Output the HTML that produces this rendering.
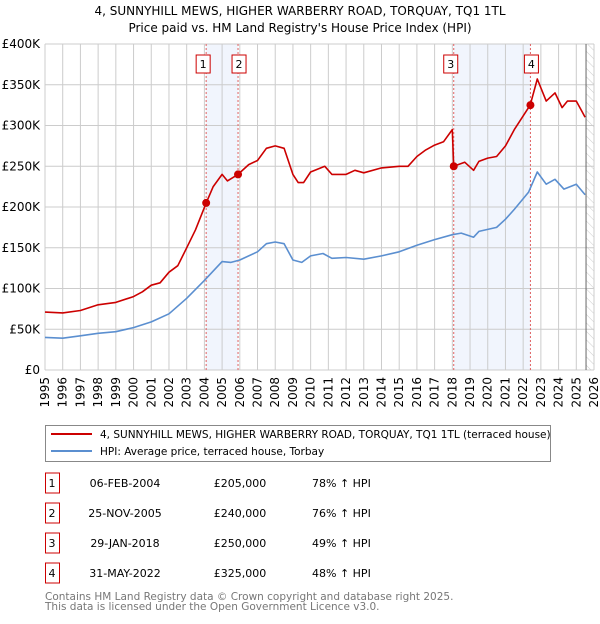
<!DOCTYPE html>
<html><head><meta charset="utf-8"><style>
body{margin:0;background:#fff;font-family:"DejaVu Sans","Liberation Sans",sans-serif;}
svg text{font-family:"DejaVu Sans","Liberation Sans",sans-serif;}
</style></head><body>
<svg id="c" width="600" height="620" xmlns="http://www.w3.org/2000/svg">
<text x="300" y="15" text-anchor="middle" font-size="12" fill="#000">4, SUNNYHILL MEWS, HIGHER WARBERRY ROAD, TORQUAY, TQ1 1TL</text>
<text x="300" y="32" text-anchor="middle" font-size="12" fill="#000">Price paid vs. HM Land Registry's House Price Index (HPI)</text>
<g id="plot"></g>
<g>
<rect x="45.5" y="425.5" width="505" height="36" fill="#fff" stroke="#888"/>
<line x1="51" y1="434" x2="92" y2="434" stroke="#cc0000" stroke-width="2"/>
<text x="100" y="438" font-size="10.5">4, SUNNYHILL MEWS, HIGHER WARBERRY ROAD, TORQUAY, TQ1 1TL (terraced house)</text>
<line x1="51" y1="451" x2="92" y2="451" stroke="#5b8fd0" stroke-width="2"/>
<text x="100" y="455" font-size="10.5">HPI: Average price, terraced house, Torbay</text>
</g>
<g id="table"></g>
<text x="45" y="600" font-size="10.5" fill="#777">Contains HM Land Registry data © Crown copyright and database right 2025.</text>
<text x="45" y="610" font-size="10.5" fill="#777">This data is licensed under the Open Government Licence v3.0.</text>
</svg>
<script>
const redYears=[1995,1996,1997,1998,1999,2000,2000.5,2001,2001.5,2002,2002.5,2003,2003.5,2004.1,2004.5,2005,2005.3,2005.9,2006.5,2007,2007.5,2008,2008.5,2009,2009.3,2009.6,2010,2010.8,2011.2,2012,2012.5,2013,2014,2015,2015.5,2016,2016.5,2017,2017.5,2018.0,2018.08,2018.7,2019.2,2019.5,2020,2020.5,2021,2021.5,2022.4,2022.8,2023.3,2023.8,2024.2,2024.5,2025,2025.3,2025.5];
const redValues=[71,70,73,80,83,90,96,104,107,120,128,150,172,205,225,240,232,240,252,257,272,275,272,240,230,230,243,250,240,240,245,242,248,250,250,262,270,276,280,295,250,255,245,256,260,262,275,295,325,357,330,340,322,330,330,318,310];
const hpiYears=[1995,1996,1997,1998,1999,2000,2001,2002,2003,2004,2005,2005.5,2006,2007,2007.5,2008,2008.5,2009,2009.5,2010,2010.7,2011.2,2012,2013,2014,2015,2016,2017,2018,2018.5,2019.2,2019.5,2020.5,2021,2021.5,2022.3,2022.8,2023.3,2023.8,2024.3,2025,2025.5];
const hpiValues=[40,39,42,45,47,52,59,69,88,110,133,132,135,145,155,157,155,135,132,140,143,137,138,136,140,145,153,160,166,168,163,170,175,185,197,218,243,228,234,222,228,215];
const saleYears=[2004.1,2005.9,2018.08,2022.41];
const saleValues=[205,240,250,325];
const saleLabels=["1","2","3","4"];
const saleDates=["06-FEB-2004","25-NOV-2005","29-JAN-2018","31-MAY-2022"];
const salePrices=["£205,000","£240,000","£250,000","£325,000"];
const saleHpi=["78% ↑ HPI","76% ↑ HPI","49% ↑ HPI","48% ↑ HPI"];
const yTicks=[0,50,100,150,200,250,300,350,400];
const yTickLabels=["£0","£50K","£100K","£150K","£200K","£250K","£300K","£350K","£400K"];
const xTicks=[1995,1996,1997,1998,1999,2000,2001,2002,2003,2004,2005,2006,2007,2008,2009,2010,2011,2012,2013,2014,2015,2016,2017,2018,2019,2020,2021,2022,2023,2024,2025,2026];

const NS="http://www.w3.org/2000/svg";
const L=45,R=594,T=44,B=370;
const xs=y=>L+(y-1995)*(R-L)/31;
const ys=v=>B-v*(B-T)/400;
const plot=document.getElementById('plot');
function mk(tag,attrs,parent){const e=document.createElementNS(NS,tag);for(const k in attrs)e.setAttribute(k,attrs[k]);(parent||plot).appendChild(e);return e;}

[[0,1],[2,3]].forEach((p,i)=>{
 const r=mk('rect',{x:xs(saleYears[p[0]]),y:T,width:xs(saleYears[p[1]])-xs(saleYears[p[0]]),height:B-T,fill:'#eef3fc',opacity:0.8});
 
 
});
const defs=mk('defs',{});
const pat=mk('pattern',{id:'h',width:6,height:6,patternUnits:'userSpaceOnUse',patternTransform:'rotate(-45)'},defs);
mk('line',{x1:0,y1:0,x2:0,y2:6,stroke:'#ccc','stroke-width':1},pat);
const hr=mk('rect',{x:xs(2025.55),y:T,width:R-xs(2025.55),height:B-T,fill:'url(#h)'});


xTicks.forEach(t=>{
 const g=mk('line',{x1:xs(t),y1:T,x2:xs(t),y2:B,stroke:'#cccccc','stroke-width':1});
 
 
 const tx=mk('text',{x:0,y:0,'font-size':12,fill:'#000','text-anchor':'end',transform:`translate(${xs(t)+4},${B+7}) rotate(-90)`});
 tx.textContent=t;
 
 
});
yTicks.forEach((t,i)=>{
 const g=mk('line',{x1:L,y1:ys(t),x2:R,y2:ys(t),stroke:'#cccccc','stroke-width':1});
 
 
 const tx=mk('text',{x:L-5,y:ys(t)+4,'font-size':12,fill:'#000','text-anchor':'end'});
 tx.textContent=yTickLabels[i];
 
 
});
const cur=mk('line',{x1:xs(2025.55),y1:T,x2:xs(2025.55),y2:B,stroke:'#666','stroke-width':1});


saleYears.forEach((y,i)=>{
 const l=mk('line',{x1:xs(y),y1:T,x2:xs(y),y2:B,stroke:'#e06060','stroke-width':1,'stroke-dasharray':'2,2'});
 
 
 const bxX=xs(y)+(i%2==0?-10:-6);
 const bx=mk('rect',{x:bxX,y:55,width:14,height:18,fill:'#fff',stroke:'#cc0000'});
 
 
 const t=mk('text',{x:bxX+7,y:68,'font-size':11,'text-anchor':'middle'});
 t.textContent=saleLabels[i];
 
 
});
function line(xv,yv,color,name){
 const d=xv.map((x,i)=>(i?'L':'M')+xs(x).toFixed(1)+','+ys(yv[i]).toFixed(1)).join('');
 const p=mk('path',{d:d,fill:'none',stroke:color,'stroke-width':1.6,'stroke-linejoin':'round'});
 
 
}
line(hpiYears,hpiValues,'#5b8fd0','hpi-line');
line(redYears,redValues,'#cc0000','property-price-line');
saleYears.forEach((y,i)=>{
 const c=mk('circle',{cx:xs(y),cy:ys(saleValues[i]),r:4,fill:'#cc0000'});
 
 
});
const tb=document.getElementById('table');
saleLabels.forEach((s,i)=>{
 const cy=483+i*30;
 const r=mk('rect',{x:45.5,y:cy-10,width:14,height:20,fill:'#fff',stroke:'#cc0000'},tb);
 
 
 const vals=[[52,s,'middle'],[125,saleDates[i],'middle'],[240,salePrices[i],'middle'],[312,saleHpi[i],'start']];
 vals.forEach((v,j)=>{
  const t=mk('text',{x:v[0],y:cy+4,'font-size':11,'text-anchor':v[2]},tb);
  t.textContent=v[1];
  
  
 });
});
</script>
</body></html>
